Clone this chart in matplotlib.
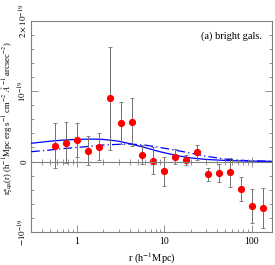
import numpy as np
import matplotlib
matplotlib.use("Agg")
import matplotlib.pyplot as plt
from matplotlib.ticker import LogLocator, NullFormatter, FixedLocator, FixedFormatter, MultipleLocator

plt.rcParams['font.family'] = ['Liberation Serif', 'DejaVu Serif']
plt.rcParams['mathtext.fontset'] = 'stix'

# --------- data (y in units of 1e-19) ----------
r = [0.56, 0.75, 1.0, 1.33, 1.78, 2.37, 3.16, 4.22, 5.62, 7.5,
     10.0, 13.3, 17.8, 23.7, 31.6, 42.2, 56.2, 75.0, 100.0, 133.0]
xi = [0.225, 0.27, 0.305, 0.155, 0.21, 0.90, 0.55, 0.56, 0.10, 0.015,
      -0.14, 0.07, 0.02, 0.13, -0.18, -0.165, -0.155, -0.39, -0.63, -0.66]
err = [0.32, 0.29, 0.24, 0.21, 0.19, 0.73, 0.30, 0.34, 0.13, 0.19,
       0.21, 0.11, 0.07, 0.11, 0.09, 0.13, 0.21, 0.17, 0.24, 0.29]

r_model = [0.3, 0.5, 0.7, 1, 1.5, 2, 3, 4, 6, 8, 10, 15, 20, 30, 50, 70, 100, 170]
model_solid = [0.26, 0.29, 0.305, 0.315, 0.32, 0.315, 0.29, 0.255, 0.20, 0.155,
               0.125, 0.078, 0.052, 0.03, 0.016, 0.01, 0.006, 0.003]
model_dashdot = [0.14, 0.165, 0.185, 0.20, 0.22, 0.235, 0.245, 0.25, 0.235, 0.21,
                 0.19, 0.15, 0.12, 0.075, 0.035, 0.02, 0.01, 0.004]

ytick_vals = [-1, 0, 1, 2]
ytick_labels = [r'$-10^{-19}$', '0', r'$10^{-19}$', r'$2\times10^{-19}$']
xtick_vals = [1, 10, 100]
xtick_labels = ['1', '10', '100']

# --------- figure ----------
fig = plt.figure(figsize=(2.75, 2.65), dpi=100)
ax = fig.add_axes([0.113, 0.125, 0.876, 0.796])
ax.set_xscale('log')
ax.set_xlim(0.3, 170)
ax.set_ylim(-1, 2)

gray = '#808080'
for s in ax.spines.values():
    s.set_color(gray)
    s.set_linewidth(0.8)

ax.xaxis.set_major_locator(FixedLocator(xtick_vals))
ax.xaxis.set_major_formatter(FixedFormatter(xtick_labels))
ax.xaxis.set_minor_locator(LogLocator(base=10, subs=np.arange(2, 10)))
ax.xaxis.set_minor_formatter(NullFormatter())
ax.yaxis.set_major_locator(FixedLocator(ytick_vals))
ax.yaxis.set_major_formatter(FixedFormatter(ytick_labels))
ax.yaxis.set_minor_locator(MultipleLocator(0.2))
ax.tick_params(which='both', direction='in', top=True, right=True, color=gray,
               labelsize=7, width=0.6)
ax.tick_params(which='major', length=5)
ax.tick_params(which='minor', length=2.5)
ax.tick_params(axis='y', labelrotation=90, pad=1.5, labelsize=6.5)
ax.tick_params(axis='x', pad=4)
for lab in ax.get_yticklabels():
    lab.set_va('center')

# zero line with its own ticks
ax0 = ax.twiny()
ax0.set_xscale('log')
ax0.set_xlim(ax.get_xlim())
for side in ['top', 'left', 'right']:
    ax0.spines[side].set_visible(False)
ax0.spines['bottom'].set_position(('data', 0))
ax0.spines['bottom'].set_color(gray)
ax0.spines['bottom'].set_linewidth(0.8)
ax0.xaxis.set_ticks_position('bottom')
ax0.xaxis.set_major_locator(FixedLocator(xtick_vals))
ax0.xaxis.set_minor_locator(LogLocator(base=10, subs=np.arange(2, 10)))
ax0.xaxis.set_major_formatter(NullFormatter())
ax0.xaxis.set_minor_formatter(NullFormatter())
ax0.tick_params(which='both', direction='inout', color=gray, width=0.6)
ax0.tick_params(which='major', length=7)
ax0.tick_params(which='minor', length=4)

# models
ax.plot(r_model, model_solid, color='blue', lw=0.9, zorder=3)
ax.plot(r_model, model_dashdot, color='blue', lw=0.9, ls=(0, (7, 2.5, 1, 2.5)), zorder=3)

# measurements
ax.errorbar(r, xi, yerr=err, fmt='o', color='red', ms=4.2, mec='red',
            ecolor='#707070', elinewidth=0.7, capsize=1.5, capthick=0.6, zorder=4)

ax.text(0.96, 0.93, '(a) bright gals.', transform=ax.transAxes, ha='right', va='center',
        fontsize=7.5)
ax.set_xlabel(r'r (h$^{-1}$Mpc)', fontsize=7.5, labelpad=3)
ax.set_ylabel(r'r$\xi_{\rm qa}$(r) (h$^{-1}$Mpc erg s$^{-1}$ cm$^{-2}$ $\AA^{-1}$ arcsec$^{-2}$)',
              fontsize=6.2)
ax.yaxis.set_label_coords(-0.072, 0.54)

fig.savefig('out.png', dpi=100)
